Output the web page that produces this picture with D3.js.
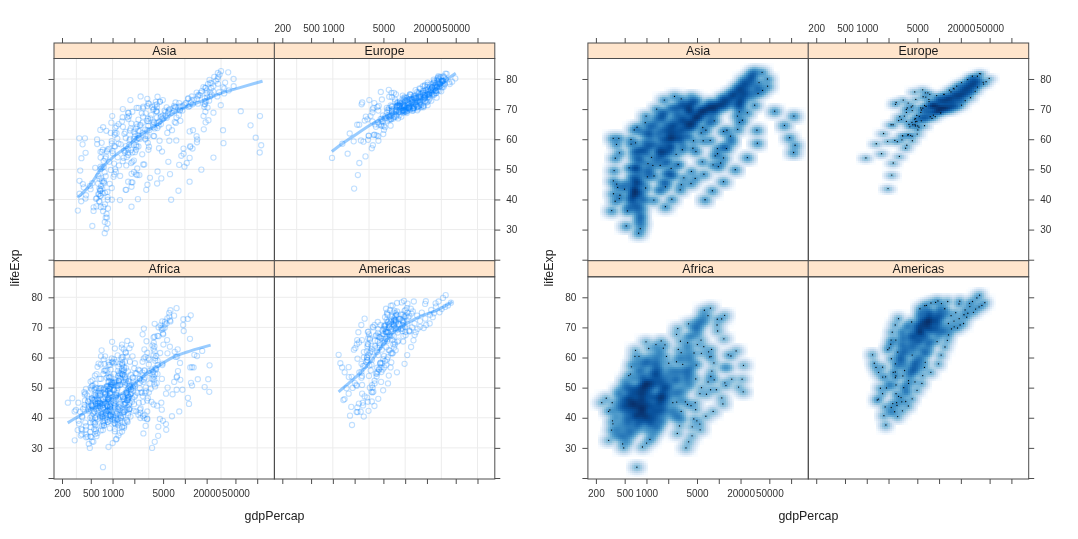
<!DOCTYPE html>
<html><head><meta charset="utf-8">
<script src="https://cdn.jsdelivr.net/npm/d3@7/dist/d3.min.js"></script>
<style>
html,body{margin:0;padding:0;background:#fff}
svg{display:block;filter:blur(0.55px)}
text{font-family:"Liberation Sans",Arial,sans-serif}
</style></head><body>
<svg id="chart" width="1078" height="539"></svg>
<script>
const xTickValues=[200,500,1000,2000,5000,10000,20000,50000,100000];
const xTickLabels=[200,500,1000,5000,20000,50000];
const xGridValues=[316.2,1000,3162,10000,31620,100000];
const yTickValues=[20,30,40,50,60,70,80];
const yTickLabels=[30,40,50,60,70,80];
const panelNames=["Asia","Europe","Africa","Americas"];

const asiaGdp=[
779,821,853,836,740,786,978,852,649,635,726,975,
9867,11636,12753,14805,18269,19340,19211,18524,19036,20292,23404,29796,
684,662,686,721,630,660,677,752,837,973,1136,1391,
369,430,497,523,422,525,683,683,682,734,896,1714,
400,576,488,613,677,741,962,1379,1656,2289,3119,4959,
3054,3629,4693,6198,8316,11186,14561,20038,24758,28378,30209,39725,
547,590,658,700,725,813,856,977,1164,1459,1747,2452,
750,859,849,762,1111,1383,1517,1748,2383,3119,2874,3541,
3035,3290,4187,5907,9613,11889,7608,6642,7235,8264,9241,11606,
4130,6229,8342,8931,9576,14688,14517,11644,3746,3076,4391,4471,
4087,5386,7106,8394,12787,13306,15367,17123,18051,20897,21905,25523,
3217,4317,6577,9847,14779,16610,19384,22376,26825,28817,28605,31656,
1547,1886,2348,2742,2110,2852,4161,4449,3432,3645,3845,4519,
1088,1571,1622,2144,3702,4106,4106,4106,3726,1690,1647,1593,
1031,1488,1536,2029,3031,4657,5623,8533,12104,15994,19234,23348,
108382,113523,95458,80895,109348,59265,31354,28118,34933,40301,35110,47307,
4835,6090,5715,6006,7486,8659,7641,5377,6890,8755,9314,10461,
1831,1810,2037,2278,2849,3828,4920,5249,7278,10132,12427,12452,
787,912,1056,1226,1421,1648,2158,2848,2278,1785,2140,3096,
331,350,388,349,357,371,424,385,347,415,611,944,
546,598,652,676,674,695,718,776,897,1011,1057,1091,
1828,2243,2925,4721,10618,11848,12955,18115,18617,19702,22316,22316,
685,747,803,943,1050,1175,1444,1705,1972,2049,2093,2606,
1273,1548,1650,1814,1989,2373,2603,2190,2279,2537,2651,3190,
6460,8157,11626,16903,24837,34168,33693,21199,24841,20586,19014,21655,
2315,2843,3675,4977,8597,11210,15169,18862,24769,33519,36023,47143,
1083,1072,1074,1136,1213,1349,1648,1877,2154,2665,3015,3970,
1644,2117,2194,1882,2572,3195,3761,3116,3341,4014,4091,4185,
1207,1508,1823,2644,4063,5597,7426,11055,15216,20206,23235,28718,
757,794,1002,1296,1524,1961,2393,2983,4617,5852,5913,7458,
605,676,772,637,700,714,707,821,989,1386,1764,2442,
1516,1827,2199,2650,3133,3683,4337,5069,6017,7111,4516,3025,
781,805,826,863,1266,1829,1978,1972,1879,2117,2235,2281];
const asiaLife=[
28.8,30.3,32,34,36.1,38.4,39.9,40.8,41.7,41.8,42.1,43.8,
50.9,53.8,56.9,59.9,63.3,65.6,69.1,70.8,72.6,73.9,74.8,75.6,
37.5,39.3,41.2,43.5,45.3,46.9,50,52.8,56,59.4,62,64.1,
39.4,41.4,43.4,45.4,40.3,31.2,50.9,53.9,55.8,56.5,56.8,59.7,
44,50.5,44.5,58.4,63.1,64,65.5,67.3,68.7,70.4,72,73,
61,64.8,67.6,70,72,73.6,75.5,76.2,77.6,80,81.5,82.2,
37.4,40.2,43.6,47.2,50.7,54.2,56.6,58.6,60.2,61.8,62.9,64.7,
37.5,39.9,42.5,46,49.2,52.7,56.2,60.1,62.7,66,68.6,70.7,
44.9,47.2,49.3,52.5,55.2,57.7,59.6,63,65.7,68,69.5,71,
45.3,48.4,51.5,54.5,56.9,59,61,62.6,65.4,58.8,57,59.5,
65.4,67.8,69.4,70.8,71.6,73.1,74.7,76,77.3,78.3,79.7,80.7,
63,65.5,68.7,71.4,73.4,75.4,77.1,78.7,79.4,80.7,82,82.6,
43.2,45.7,48.1,51.6,56.5,61.1,63.7,65.9,68,69.8,71.3,72.5,
50,54.1,56.7,59.9,64,67.2,69.1,70.6,70,67.7,66.7,67.3,
47.5,55.6,57.7,60.9,63,65,67.1,69.8,72.2,74.6,77,78.6,
55.6,58,60.5,64.6,67.7,69.3,71.3,74.2,75.2,76.2,76.9,77.6,
55.9,59.5,62.1,63.9,65.4,66.1,67.2,69,70.3,70.9,71,72,
48.5,52.1,55.7,57.6,59.9,63.6,66.8,69.5,70.7,71.9,73,74.2,
42.2,45.2,48.3,51.3,53.8,55.5,57.5,60.2,61.3,63.6,65,66.8,
36.3,41.9,45.1,46.2,49.6,53.7,55.5,58.3,60.3,60.3,59.9,62.1,
36.2,37.7,39.4,41.2,43,44.5,46.1,49,52.5,55.3,57.7,63.8,
37.6,40.1,43.2,47,52.1,57.4,63,67.7,71.6,72.5,74.2,75.6,
43.4,45.6,47.7,49.8,51.9,54,56.2,58.2,60.1,61.8,63.6,65.5,
47.8,51.3,54.8,56.4,58.1,60.1,62.1,64.2,66.5,68.6,70.3,71.7,
39.9,42.9,45.9,49.9,53.9,58.7,63,66.3,68.8,70.5,71.6,72.8,
60.4,63.2,65.8,67.9,69.5,70.8,71.8,73.6,75.8,77.2,78.8,80,
57.6,61.5,62.2,64.3,65,65.9,68.8,69.1,70.4,70.8,71,72.4,
45.9,48.3,50.3,52.5,55,57.5,61,64.4,66.9,69.2,71.6,74.1,
58.5,62.4,65.2,67.5,69.4,70.6,72.2,73.4,74.3,75.2,76.9,78.4,
50.8,53.6,56.1,58.3,60.4,62.5,64.6,66.1,67.3,68.7,69.2,70.6,
40.4,42.9,45.4,47.8,50.3,55.8,58.8,62.8,67.7,70,73,74.2,
43.2,45.7,48.1,51.6,56.5,61.1,64.5,67,69.7,71.1,72.4,73.4,
32.5,34,35.2,37,39.8,44.2,49.1,52.9,55.6,58,60.3,62.7];

const europeGdp=[
1601,1942,2313,2760,3313,3533,3631,3739,2497,3193,4604,5937,
6137,8843,10751,12835,16662,19749,21597,23688,27042,29096,32418,36126,
8343,9715,10991,13149,16672,19118,20980,22526,25576,27561,30486,33693,
974,1354,1710,2172,2860,3528,4127,4314,2547,4766,6019,7446,
2444,3009,4255,5578,6597,7612,8224,8240,6303,5970,7697,10681,
3119,4338,5478,6961,9165,11305,13222,13823,8448,9876,11628,14619,
6879,8256,10137,11399,13108,14800,15377,16310,14297,16049,17596,22833,
9692,11100,13583,15937,18866,20423,21688,25116,26407,29804,32167,35278,
6425,7545,9372,11766,14734,15605,18533,21141,20647,23724,28204,33207,
7030,8663,10560,13000,16107,18293,20294,22066,24704,26505,28926,30470,
7144,10188,12902,14746,18016,20513,22032,24639,26505,27789,30036,32170,
3531,4916,6017,8513,12725,14196,15268,16121,17541,18748,22514,27538,
5264,6040,7550,9326,10168,11674,12546,12986,10536,11712,14843,18009,
7268,9244,10350,13320,15798,19655,23270,26923,25144,28061,31163,36181,
5211,5599,6632,7656,9531,11151,12618,13873,17558,24522,34077,40676,
4931,6249,8244,10022,12269,14256,16537,19208,22014,24675,27968,28570,
2648,3682,4649,5907,7779,9596,11222,11733,7003,6465,6558,9254,
8942,11276,12791,15363,18795,21209,21399,23651,26791,30246,33725,36798,
10095,11654,13450,16362,18965,23311,26299,31541,33966,41283,44684,49357,
4029,4734,5339,6557,8006,9508,8451,9082,7739,10160,12002,15390,
3068,3775,4728,6362,9022,10172,11754,13039,16207,17641,19971,20510,
3145,3943,4735,6471,8011,9424,9605,9697,6598,7346,7885,10808,
3581,4981,6289,7992,10523,12980,15181,15871,9325,7915,7236,9787,
5074,6094,7481,8412,9674,10923,11348,12037,9498,12127,13639,18678,
4215,5862,7403,9406,12384,15277,17867,18678,14215,17161,20660,25768,
3834,4565,5694,7994,10639,13237,13926,15765,18603,20445,24835,28821,
8528,9912,12329,15258,17832,18856,20667,23587,23880,25267,29342,33860,
14734,17909,20431,22966,27195,26982,28398,30282,31872,32135,34481,37506,
1969,2219,2323,2826,3451,4269,4241,5089,5678,6601,6508,8458,
9980,11283,12477,14143,15895,17429,18232,21664,22705,26075,29479,33203];
const europeLife=[
55.2,59.3,64.8,66.2,67.7,68.9,70.4,72,71.6,73,75.7,76.4,
66.8,67.5,69.5,70.1,70.6,72.2,73.2,74.9,76,77.5,79,79.8,
68,69.2,70.3,70.9,71.4,72.8,73.9,75.4,76.5,77.5,78.3,79.4,
53.8,58.5,61.9,64.8,67.5,69.9,70.7,71.1,72.2,73.2,74.1,74.9,
59.6,66.6,69.5,70.4,70.9,70.8,71.1,71.3,71.2,70.3,72.1,73,
61.2,64.8,67.1,68.5,69.6,70.6,70.5,71.5,72.5,73.7,74.9,75.7,
66.9,69,69.9,70.4,70.3,70.7,70.9,71.6,72.4,74,75.5,76.5,
70.8,71.8,72.4,73,73.5,74.7,74.6,74.8,75.3,76.1,77.2,78.3,
66.6,67.5,68.8,69.8,70.9,72.5,74.6,74.8,75.7,77.1,78.4,79.3,
67.4,68.9,70.5,71.6,72.4,73.8,74.9,76.3,77.5,78.6,79.6,80.7,
67.5,69.1,70.3,70.8,71,72.5,73.8,74.8,76.1,77.3,78.7,79.4,
65.9,67.9,69.5,71,72.3,73.7,75.2,76.7,77.6,78,78.3,79.5,
64,66.4,68,69.5,69.8,70,69.4,69.6,69.2,71,72.6,73.3,
72.5,73.5,73.7,73.7,74.5,76.1,77,77.2,78.8,79,80.5,81.8,
66.9,68.9,70,71.1,71.3,72,73.1,74.4,75.5,76.1,77.8,78.9,
65.9,67.8,69.2,71.1,72.2,73.5,75,76.4,77.4,78.8,80.2,80.5,
59.2,61.4,64.8,67.5,70.6,73.1,74.1,74.9,75.4,75.4,74,74.5,
72.1,73,73.2,73.8,73.8,75.2,76,77.4,78,78.3,78.5,79.8,
72.7,73.4,73.5,74.1,74.3,75.4,76,75.9,77.3,78.3,79.1,80.2,
61.3,65.8,67.6,69.6,70.9,70.7,71.3,71,71,72.8,74.7,75.6,
59.8,61.5,64.4,66.6,69.3,70.4,72.8,74.1,74.9,76,77.3,78.1,
61.1,64.1,66.8,67.8,69.2,69.5,69.7,69.5,69.4,69.7,71.3,72.5,
58,61.7,64.5,66.9,68.7,70.3,70.2,71.2,71.7,72.2,73.2,74,
64.4,67.5,69.2,71,70.4,70.5,70.8,71.1,71.4,73,73.8,74.7,
65.6,67.9,69.2,71,72.2,72.8,71.1,72.3,73.6,75.1,76.7,77.9,
64.9,66.7,69.7,71.4,73.1,74.4,76.3,76.9,77.6,78.8,79.8,80.9,
71.9,72.5,73.4,74.2,74.7,75.4,76.4,77.2,78.2,79.4,80,80.9,
69.6,70.6,71.3,72.8,73.8,75.4,76.3,77.4,78,79.4,80.6,81.7,
43.6,48.1,52.1,54.3,57,59.5,61,63.1,66.1,68.8,70.8,71.8,
69.2,70.4,70.8,71.4,72,73,74,75,76.4,77.2,78.5,79.4];

const africaGdp=[
2449,3014,2551,3247,4183,4910,5745,5681,5023,4797,5288,6223,
3521,3828,4269,5523,5473,3009,2757,2430,2628,2277,2773,4797,
1063,960,949,1036,1086,1029,1278,1226,1191,1233,1373,1441,
851,918,984,1215,2264,3215,4551,6206,7954,8647,11004,12570,
543,617,723,795,855,743,807,912,932,946,1038,1217,
339,380,355,413,464,556,560,622,632,463,446,430,
1173,1313,1400,1508,1684,1783,2368,2603,1793,1694,1934,2042,
1071,1191,1193,1136,1070,1109,956,845,748,741,739,706,
1179,1308,1390,1197,1104,1134,798,952,1058,1005,1156,1704,
1103,1211,1407,1876,1937,1173,1267,1316,1247,1173,1076,986,
781,906,896,862,905,796,674,672,458,312,241,278,
2126,2315,2465,2678,3213,3259,4879,4201,4016,3484,3633,3633,
1389,1500,1728,2053,2378,2517,2603,2157,1648,1786,1649,1545,
2670,2865,3021,3020,3694,3082,2880,2880,2377,1895,1908,2082,
1419,1459,1693,1815,2024,2785,3504,3885,3795,4173,4755,5581,
376,427,582,916,673,958,928,966,1133,2815,7703,12154,
329,344,381,469,514,505,524,521,582,913,765,641,
362,379,419,516,566,556,578,574,422,516,531,691,
4293,4977,6632,8359,11402,21746,15113,11864,13522,14723,12522,13206,
485,521,599,735,757,884,835,611,666,653,660,753,
911,1044,1190,1126,1178,993,876,847,925,1005,1112,1328,
510,576,686,709,742,943,927,869,795,874,946,943,
300,432,430,582,915,765,838,736,745,797,576,579,
854,944,897,1057,1223,1268,1348,1361,1342,1361,1288,1463,
299,336,412,498,497,745,797,774,977,1187,1275,1569,
576,620,713,803,641,665,624,532,637,609,531,415,
2388,3448,6757,18773,21011,21951,17364,11770,9640,9467,9535,12057,
1443,1590,1644,1749,1544,1302,1155,1041,992,895,894,1045,
369,431,496,523,634,665,632,636,564,692,665,759,
452,490,497,545,581,686,619,520,581,686,952,1043,
743,847,1055,1422,1586,1497,1481,1421,1361,1484,1579,1803,
1968,2035,2848,3020,3688,3710,3689,4979,5020,4605,6318,10957,
1688,1643,1567,1711,2369,2370,2703,2756,2949,2605,2711,3820,
469,495,557,567,724,503,462,390,410,472,634,824,
2424,2621,3173,3793,3746,3876,4191,3694,3805,3899,4072,4811,
762,860,1010,1014,954,809,909,669,582,580,601,620,
1077,1100,1151,1015,1698,1982,1577,1385,1620,1625,1615,2014,
2719,2770,3174,4021,5048,4320,5267,5303,6101,6072,6316,7670,
493,540,597,511,591,670,882,848,737,590,786,863,
880,861,1072,1385,1533,1738,1890,1517,1429,1339,1353,1598,
1450,1568,1654,1612,1597,1561,1518,1441,1367,1393,1519,1712,
879,1004,1116,1206,1354,1349,1465,1295,1068,575,699,863,
1136,1258,1369,1285,1255,1450,1176,1094,927,930,882,926,
4725,5487,5769,7114,7766,8028,8568,7826,7226,7479,7711,9270,
1615,1770,1959,1687,1660,2203,1895,1508,1493,1632,1993,2602,
1149,1244,1857,2613,3364,3781,3895,3985,3553,3876,4128,4513,
717,698,722,849,916,763,875,831,825,789,899,1107,
859,925,1068,1477,1649,1533,1344,1203,1034,982,886,882,
1469,1395,1661,1932,2753,3120,3561,3811,4333,4877,5723,7093,
735,775,767,908,950,844,682,618,644,816,927,1056,
1147,1312,1453,1777,1773,1589,1409,1213,1211,1071,1072,1271,
407,519,527,570,799,686,788,706,693,792,672,470];
const africaLife=[
43.1,45.7,48.3,51.4,54.5,58,61.4,65.8,67.7,69.2,71,72.3,
30,32,34,36,37.9,39.5,39.9,39.9,40.6,41,41,42.7,
38.2,40.4,42.6,44.9,47,49.2,50.9,52.3,53.9,54.8,54.4,56.7,
47.6,49.6,51.5,53.3,56,59.3,61.5,63.6,62.7,52.6,46.6,50.7,
32,34.9,37.8,40.7,43.6,46.1,48.1,49.6,50.3,50.3,50.7,52.3,
39,40.5,42,43.5,44.1,45.9,47.5,48.2,44.7,45.3,47.4,49.6,
38.5,40.4,42.6,44.8,47,49.4,53,55,54.3,52.2,49.9,50.4,
35.5,37.5,39.5,41.5,43.5,46.8,48.3,50.5,49.4,46.1,43.3,44.7,
38.1,39.9,41.7,43.6,45.6,47.4,49.5,51.1,51.7,51.6,50.5,50.7,
40.7,42.5,44.5,46.5,48.9,50.9,52.9,54.9,57.9,60.7,63,65.2,
39.1,40.7,42.1,44,46,47.8,47.8,47.4,45.5,42.6,45,46.5,
42.1,45,48.4,51.9,54.9,55.6,57.5,57.5,56.4,53,53,55.3,
40.5,42.5,44.9,47.4,49.8,52.4,54,54.7,52,48,46.8,48.3,
34.8,37.3,39.7,42.1,44.4,46.5,48.8,50,51.6,53.2,53.4,54.8,
41.9,44.4,47,49.3,51.1,53.3,56,59.8,63.7,67.2,69.8,71.3,
34.5,36,37.5,39,40.5,42,43.7,45.7,47.5,48.2,49.3,51.6,
35.9,38,40.2,42.2,44.1,44.5,43.9,46.5,50,53.4,55.6,58,
34.1,36,38.4,40.5,42,42,43.9,46,48.1,49.4,50.7,52.9,
37,39,40.5,42.1,44.6,48.6,52.8,56.7,60.9,60.5,56.8,56.7,
30,32.1,33.9,35.9,38.3,41,43.9,46.3,48.2,49.6,52.9,59.4,
43.1,44.8,46.5,48.1,49.9,51.8,53.7,55.7,57.5,58.6,58.5,60,
33.6,34.6,35.8,37.2,38.8,40.8,42.9,45.2,48,50.3,53.7,56,
32.5,33.5,34.5,35.5,36.5,37.5,39.3,41.2,43.3,44.9,45.5,46.4,
42.3,44.7,47,49.3,51.9,54.4,56.2,57.9,59.3,54.4,51,54.1,
42.1,45,47.7,50,52,54.5,55.9,57.9,59.7,55.6,44.6,42.6,
38.5,39.5,40.5,41.5,42.6,43.8,44.9,46,46,42.2,43.8,45.7,
42.7,45.3,47.8,50.2,52.8,57.4,62.2,66.2,68.8,70.8,72.7,74,
36.7,38.9,40.8,42.9,44.9,46.9,49,49.4,51,52.2,53.3,59.4,
36.3,37.2,38.4,39.5,41.8,43.8,45.6,47.5,49.4,46.1,45,48.3,
33.7,35.3,36.9,38.5,40,41.7,43.9,46.4,48.4,49.9,51.8,54.5,
40.5,42.3,44.2,46.3,48.4,50.9,53.4,55.6,57.5,58.5,60.4,64.2,
51,58.1,60.2,61.6,62.9,64.9,66.7,68,69.6,70.7,72,72.8,
42.9,45.9,47.9,50.3,52.9,55.7,59.7,62.7,65.4,67.7,69.6,71.2,
31.3,33.8,36.2,38.1,40.3,42.5,42.8,42.9,44.3,46.3,44,42.1,
41.7,45.2,48.4,51.2,53.6,56.4,59,60.8,62,58.9,51.5,52.9,
37.4,38.6,39.5,40.1,40.5,41.3,42.6,44.6,47.4,51.3,54.5,56.9,
36.3,37.8,39.4,41,42.8,44.5,45.8,46.9,47.5,47.5,46.6,46.9,
52.7,55.8,57.7,60.5,64.3,67.1,69.9,71.9,73.6,74.8,75.7,76.4,
40,41.5,43,44.1,44.6,45,46.2,44,23.6,36.1,43.4,46.2,
46.5,48.9,51.9,54.4,56.5,58.6,60.4,61.7,62.7,63.3,64.3,65.5,
37.3,39.3,41.5,43.6,45.8,48.9,52.4,55.8,58.2,60.2,61.6,63.1,
30.3,31.6,32.8,34.1,35.4,36.8,38.4,40,38.3,39.9,41,42.6,
33,35,37,39,41,42,43,44.5,39.7,43.8,45.9,48.2,
45,48,50,51.9,53.7,55.5,58.2,60.3,61.9,60.2,53.4,49.3,
38.6,40.4,42.3,44.2,46.3,48.3,50.3,51.7,53.6,55.4,56.4,58.6,
41.4,43.4,45.3,47.2,49.6,52.5,54.5,56,54.3,50.4,44,39.6,
41.2,43,44.2,46,48.1,49.9,51.9,53.3,50.4,48.5,49.9,52.5,
38.6,40.8,43.9,46.8,49.8,52.9,55.5,56.9,58.1,58.4,57.6,58.4,
44.6,47.1,49.6,52.1,55.6,59.8,64,66.9,70,72,73,73.9,
40,42.6,45.3,48.1,51,50.4,49.8,49.8,48.8,44.6,47.8,51.5,
42,44.1,46,47.8,50.1,51.4,51.8,50.8,46.1,40.2,39.2,42.4,
48.5,50.5,52.4,54,55.6,57.7,60.4,62.4,60.4,46.8,40,43.5];

const americasGdp=[
5911,6857,7133,8053,9443,10079,8998,9140,9308,10967,8798,12779,
2677,2127,2181,2587,2980,3548,3157,2754,2962,3326,3413,3822,
2109,2487,3337,3430,4986,6660,7031,7807,6950,7958,8131,9066,
11367,12490,13462,16077,18971,22091,22899,26627,26343,28955,33329,36319,
3940,4316,4519,5107,5494,4757,5096,5547,7596,10118,10779,13172,
2144,2324,2492,2679,3265,3816,4398,4903,5445,6117,5755,7007,
2627,2990,3461,4161,5119,5927,5263,5630,6160,6677,7723,9645,
5587,6092,5181,5691,5306,6380,7317,7533,5593,5432,6341,8948,
1398,1544,1662,1654,2190,2682,3009,3245,3045,3614,4564,6025,
3522,3781,4086,4580,5281,6680,7214,6481,7104,7430,5773,6873,
3048,3422,3777,4359,4520,5138,4098,4141,4444,5354,5352,5728,
2428,2617,2750,3243,4031,4880,4820,4247,4439,4684,4859,5186,
1840,1727,1797,1452,1654,1874,2012,1823,1456,1342,1270,1202,
2195,2291,2539,2538,2529,3203,3122,3023,3082,3160,3099,3548,
2898,4757,5246,6125,7434,6651,6068,6351,7405,7122,6995,7321,
3478,4132,4582,5755,7396,9380,10132,9269,9472,9767,10742,11978,
3112,3458,3634,4644,4689,5486,3471,2956,2171,2253,2475,2749,
2480,2961,3537,4421,5364,5351,7010,7113,6618,7113,7357,9809,
1953,2049,2148,2299,2524,3248,4258,3999,4197,4248,3784,4173,
3759,4245,4957,5789,5938,6281,6435,6361,4446,5838,5909,7409,
3082,3907,5108,6930,9123,9770,10331,12281,14642,16999,18856,19329,
3023,4100,4998,5622,6619,7900,9119,7389,7370,8792,11461,18009,
13990,14847,16173,19530,21806,24073,25010,29884,32004,35767,39097,42952,
5717,6151,5603,5445,5703,6504,6920,7452,8137,9230,7727,10611,
7690,9803,10674,12073,13022,13503,11526,9884,10734,9570,8605,11416];
const americasLife=[
62.5,64.4,65.1,65.6,67.1,68.5,69.9,70.8,71.9,73.3,74.3,75.3,
40.4,41.9,43.4,45,46.7,50,53.9,57.3,60,62,63.9,65.6,
50.9,53.3,55.7,57.6,59.5,61.5,63.3,65.2,67.1,69.4,71,72.4,
68.8,70,71.3,72.1,72.9,74.2,75.8,76.9,78,78.6,79.8,80.7,
54.7,56.1,57.9,60.5,63.4,67.1,70.6,72.5,74.1,75.8,77.9,78.6,
50.6,55.1,57.9,60,61.6,63.8,66.7,67.8,68.4,70.3,71.7,72.9,
57.2,60,62.8,65.4,67.8,70.8,73.4,74.9,75.7,77.3,78.1,78.8,
59.4,62.3,65.2,68.3,70.7,72.6,73.7,74.2,74.4,76.2,77.2,78.3,
45.9,49.8,53.5,56.8,59.6,61.8,63.7,66,68.5,70,70.8,72.2,
48.4,51.4,54.6,56.7,58.8,61.3,64.3,67.2,69.6,72.3,74.2,75,
45.3,48.6,52.3,55.9,58.2,56.7,56.6,63.2,66.8,69.5,70.7,71.9,
42,44.1,47.1,50,53.7,56,58.1,60.8,63.4,66.3,69,70.3,
37.6,40.7,43.6,46.2,48,49.9,51.5,53.6,55.1,56.7,58.1,60.9,
41.9,44.7,48,50.9,53.9,57.4,60.9,64.5,66.4,67.7,68.6,70.2,
58.5,62.6,65.6,67.5,69,70.1,71.2,71.8,71.8,72.3,72,72.6,
50.8,55.2,58.3,60.1,62.4,65.3,67.4,69.5,71.5,73.7,74.9,76.2,
42.3,45.4,48.6,51.9,55.2,57.5,59.3,62,65.8,68.4,70.8,72.9,
55.2,59.2,61.8,64.1,66.2,68.7,70.5,72.5,73.7,75.5,74.7,75.5,
62.6,63.2,64.4,65,65.8,66.4,67,67.4,68.2,69.4,70.8,71.8,
43.9,46.3,49.1,51.4,54,56.7,58.4,61.4,64.7,68.4,69.9,71.4,
64.3,67.2,69.6,71,72.2,73.4,73.8,74.6,73.9,74.9,77.8,78.7,
59.1,61.8,64.9,65.4,65.9,68.3,68.8,69.6,69.9,69.5,69,69.8,
68.4,69.5,70.2,70.8,71.3,73.4,74.7,75,76.1,76.8,77.3,78.2,
66.1,67,68.3,68.5,68.7,69.5,70.8,71.9,72.8,74.2,75.3,76.4,
55.1,57.9,60.8,63.5,65.7,67.5,68.6,70.2,71.2,72.1,72.8,73.7];

const asiaSmoothGdp=[327,490,676,1030,1585,2420,4130,7030,10700,16500,31260,59300,118600];
const asiaSmoothLife=[40.6,44.8,49.8,54.2,57.5,61.4,64.7,68.6,70.8,72.5,75.2,77.2,79.3];
const europeSmoothGdp=[968,1334,2040,3300,5030,7740,13200,22500,34400,50000];
const europeSmoothLife=[55.9,58.4,61.4,64.7,67.2,69.1,71.9,75.1,79.1,81.9];
const africaSmoothGdp=[240,395,676,1033,1585,2420,4130,7030,12000,22700];
const africaSmoothLife=[38.3,41.4,44.5,46.7,49.1,53,56.9,60.2,62.2,64.1];
const americasSmoothGdp=[1200,1740,2400,3300,4540,6250,9550,16300,27800,45000];
const americasSmoothLife=[48.6,51.9,54.9,58.5,63,67.4,70.7,73.7,75.7,78.5];

const blues=["#ffffff","#f7fbff","#deebf7","#c6dbef","#9ecae1","#6baed6","#4292c6","#2171b5","#08519c","#08306b"];
const ramp=d3.piecewise(d3.interpolateRgb,blues);

const panelData=[
 {name:panelNames[0],col:0,row:0,g:asiaGdp,l:asiaLife,sg:asiaSmoothGdp,sl:asiaSmoothLife,sx:3.5,sy:2.7,tx:11.5,ty:9},
 {name:panelNames[1],col:1,row:0,g:europeGdp,l:europeLife,sg:europeSmoothGdp,sl:europeSmoothLife,sx:3.1,sy:1.9,tx:10.5,ty:6.5},
 {name:panelNames[2],col:0,row:1,g:africaGdp,l:africaLife,sg:africaSmoothGdp,sl:africaSmoothLife,sx:3.5,sy:2.7,tx:11.5,ty:9},
 {name:panelNames[3],col:1,row:1,g:americasGdp,l:americasLife,sg:americasSmoothGdp,sl:americasSmoothLife,sx:3.1,sy:2.7,tx:10.5,ty:9}];

const svg=d3.select("#chart");
const colX=[54,274.3],panelW=220.5;
const stripTop=[43,260.7],stripH=[15.5,16.1];
const panelTop=[58.5,276.8],panelH=202.2;
const cell=2;

function drawLattice(ox,mode){
  const g=svg.append("g").attr("transform",`translate(${ox},0)`);
  panelData.forEach(p=>{
    const x0=colX[p.col],y0=panelTop[p.row];
    const x=d3.scaleLog().domain([155,173500]).range([x0,x0+panelW]);
    const y=d3.scaleLinear().domain([86.8,19.67]).range([y0,y0+panelH]);
    const pg=g.append("g");
    if(mode==="scatter"){
      pg.selectAll("line.gv").data(xGridValues).join("line").attr("x1",d=>x(d)).attr("x2",d=>x(d))
        .attr("y1",y0).attr("y2",y0+panelH).attr("stroke","#ececec").attr("stroke-width",1);
      pg.selectAll("line.gh").data(yTickValues.slice(1)).join("line").attr("class","gh").attr("x1",x0).attr("x2",x0+panelW)
        .attr("y1",d=>y(d)).attr("y2",d=>y(d)).attr("stroke","#ececec").attr("stroke-width",1);
      pg.selectAll("circle").data(p.g.map((v,i)=>[v,p.l[i]])).join("circle")
        .attr("cx",d=>x(d[0])).attr("cy",d=>y(d[1])).attr("r",2.6)
        .attr("fill","none").attr("stroke","#0080ff").attr("stroke-opacity",0.25).attr("stroke-width",1.1);
      const line=d3.line().x(d=>x(d[0])).y(d=>y(d[1])).curve(d3.curveMonotoneX);
      pg.append("path").attr("d",line(p.sg.map((v,i)=>[v,p.sl[i]])))
        .attr("fill","none").attr("stroke","#0080ff").attr("stroke-opacity",0.4).attr("stroke-width",3);
    } else {
      const nx=Math.ceil(panelW/cell),ny=Math.ceil(panelH/cell);
      const grid=new Float64Array(nx*ny);
      const pts=p.g.map((v,i)=>[x(v)-x0,y(p.l[i])-y0]);
      pts.forEach(([px,py])=>{
        const i0=Math.max(0,Math.floor((px-p.tx)/cell)),i1=Math.min(nx-1,Math.ceil((px+p.tx)/cell));
        const j0=Math.max(0,Math.floor((py-p.ty)/cell)),j1=Math.min(ny-1,Math.ceil((py+p.ty)/cell));
        for(let j=j0;j<=j1;j++)for(let i=i0;i<=i1;i++){
          const dx=(i+.5)*cell-px,dy=(j+.5)*cell-py;
          if(Math.abs(dx)>p.tx||Math.abs(dy)>p.ty)continue;
          grid[j*nx+i]+=Math.exp(-.5*(dx*dx/(p.sx*p.sx)+dy*dy/(p.sy*p.sy)));
        }
      });
      const gmax=d3.max(grid);
      const cells=[];
      for(let j=0;j<ny;j++)for(let i=0;i<nx;i++){
        if(grid[j*nx+i]>0)cells.push({i,j,z:Math.pow(grid[j*nx+i]/gmax,.25)});
      }
      pg.selectAll("rect").data(cells).join("rect")
        .attr("x",d=>x0+d.i*cell).attr("y",d=>y0+d.j*cell)
        .attr("width",cell).attr("height",cell).attr("shape-rendering","crispEdges")
        .attr("fill",d=>ramp(d.z));
      const dens=pts.map(([px,py])=>{
        const i=Math.min(nx-1,Math.max(0,Math.floor(px/cell))),j=Math.min(ny-1,Math.max(0,Math.floor(py/cell)));
        return grid[j*nx+i];
      });
      const order=d3.range(pts.length).sort((a,b)=>dens[a]-dens[b]).slice(0,100);
      pg.selectAll("circle").data(order).join("circle")
        .attr("cx",i=>x0+pts[i][0]).attr("cy",i=>y0+pts[i][1]).attr("r",0.65).attr("fill","#000");
    }
    g.append("rect").attr("x",x0).attr("y",stripTop[p.row]).attr("width",panelW).attr("height",stripH[p.row])
      .attr("fill","#ffe5cc").attr("stroke","#4d4d4d").attr("stroke-width",1);
    g.append("text").attr("x",x0+panelW/2).attr("y",stripTop[p.row]+stripH[p.row]/2+4.4)
      .attr("text-anchor","middle").attr("font-size","12.4px").attr("fill","#1a1a1a").text(p.name);
    g.append("rect").attr("x",x0).attr("y",y0).attr("width",panelW).attr("height",panelH)
      .attr("fill","none").attr("stroke","#4d4d4d").attr("stroke-width",1);

    const xFmt=d=>xTickLabels.includes(d)?String(d):"";
    const yFmt=d=>yTickLabels.includes(d)?String(d):"";
    const blank=()=>"";
    const style=a=>{a.select(".domain").remove();a.selectAll("line").attr("stroke","#4d4d4d");
      a.selectAll("text").attr("font-family",'"Liberation Sans",Arial,sans-serif').attr("font-size","10px").attr("fill","#333");};
    if(p.row===0){
      g.append("g").attr("transform",`translate(0,${stripTop[0]})`)
        .call(d3.axisTop(x).tickValues(xTickValues).tickSize(5).tickPadding(6.5).tickFormat(p.col===1?xFmt:blank)).call(style);
    } else {
      g.append("g").attr("transform",`translate(0,${y0+panelH})`)
        .call(d3.axisBottom(x).tickValues(xTickValues).tickSize(5).tickPadding(6).tickFormat(p.col===0?xFmt:blank)).call(style);
    }
    if(p.col===0){
      g.append("g").attr("transform",`translate(${x0},0)`)
        .call(d3.axisLeft(y).tickValues(yTickValues).tickSize(5.5).tickPadding(6).tickFormat(p.row===1?yFmt:blank)).call(style);
    } else {
      g.append("g").attr("transform",`translate(${x0+panelW},0)`)
        .call(d3.axisRight(y).tickValues(yTickValues).tickSize(5.5).tickPadding(6).tickFormat(p.row===0?yFmt:blank)).call(style);
    }
  });
  g.append("text").attr("x",274.5).attr("y",520).attr("text-anchor","middle").attr("font-size","12.4px").attr("fill","#222").text("gdpPercap");
  g.append("text").attr("transform","translate(19,268) rotate(-90)").attr("text-anchor","middle").attr("font-size","12.4px").attr("fill","#222").text("lifeExp");
}
drawLattice(0,"scatter");
drawLattice(533.9,"density");
</script>
</body></html>
